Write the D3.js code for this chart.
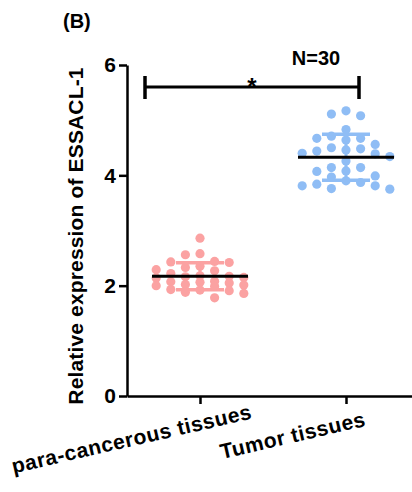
<!DOCTYPE html>
<html>
<head>
<meta charset="utf-8" />
<title>ESSACL-1 expression</title>
<style>
html, body {
	margin:0;
	padding:0;
	background:#ffffff;
}
svg {
	display:block;
	font-family: 'Liberation Sans', Arial, Helvetica, sans-serif;
	font-weight:bold;
}
</style>
</head>
<body>

<script type="text/javascript" src="https://cdn.jsdelivr.net/npm/d3@7/dist/d3.min.js"></script>

<script>

//=======================================
// data
//=======================================

let categories = ['para-cancerous tissues', 'Tumor tissues'];

let paraValues = [
	2.86, 2.58, 2.56, 2.44, 2.42, 2.43, 2.35, 2.33, 2.29, 2.27,
	2.22, 2.18, 2.17, 2.16, 2.15, 2.14, 2.08, 2.07, 2.06, 2.05,
	2.02, 2.01, 2.00, 1.99, 1.93, 1.92, 1.91, 1.88, 1.86, 1.78
];

let tumorValues = [
	5.08, 5.17, 5.11, 4.83, 4.67, 4.64, 4.67, 4.71, 4.50, 4.56,
	4.44, 4.46, 4.40, 4.39, 4.48, 4.34, 4.26, 4.14, 4.08, 4.14,
	4.07, 3.99, 3.81, 3.90, 3.81, 3.87, 3.97, 3.75, 3.84, 3.76
];

let yTicks = [0, 2, 4, 6];

let panelLabel = '(B)',
		yTitle = 'Relative expression of ESSACL-1',
		sigLabel = '*',
		nLabel = 'N=30';

let groupColors = ['#fba2a2', '#8fbdf5'];


//=======================================
// chart
//=======================================

let width = 412,
		height = 492,
		r = 4.6,
		colStep = 14.6,
		maxCol = 3,
		fontCss = 'bold 21px "Liberation Sans", Arial, sans-serif';

let y = d3.scaleLinear().domain([0, 6]).range([396, 65]),
		x = d3.scalePoint().domain(categories).range([127, 419]).padding(0.5);

let groups = [
	{ name: categories[0], values: paraValues, color: groupColors[0] },
	{ name: categories[1], values: tumorValues, color: groupColors[1] },
];

// column layout: nearest free column to the centre, overlap when crowded
function swarm(values)	{
	let order = [0];
	for (let k = 1; k <= maxCol; k++) order.push(-k, k);
	let placed = order.map(() => []);
	return values
		.map(v => ({ v: v, py: y(v) }))
		.sort((a, b) => b.v - a.v)
		.map(d => {
			let best = null, bestGap = -1;
			for (let i = 0; i < order.length; i++) {
				let gap = d3.min(placed[i], p => Math.abs(p - d.py));
				if (gap === undefined) gap = Infinity;
				if (gap >= 2 * r) { best = i; break; }
				if (gap > bestGap) { bestGap = gap; best = i; }
			}
			placed[best].push(d.py);
			d.col = order[best];
			return d;
		});
}

let svg = d3.select('body').append('svg')
	.attr('width', width)
	.attr('height', height)
	.attr('viewBox', [0, 0, width, height].join(' '));

//=====================
// points, sd, mean
//=====================
svg.append('g').attr('class', 'groups')
	.selectAll('g').data(groups)
		.enter()
			.append('g')
				.attr('transform', d => 'translate(' + [x(d.name), 0] + ')')
				.call(sel => {

					sel.selectAll('circle')
						.data(d => swarm(d.values).map(p => Object.assign(p, { color: d.color })))
						.enter()
							.append('circle')
								.attr('cx', d => d.col * colStep)
								.attr('cy', d => d.py)
								.attr('r', r)
								.attr('fill', d => d.color);

					sel.each(function(d) {
						let g = d3.select(this),
								m = d3.mean(d.values),
								s = d3.deviation(d.values);

						g.append('line')
							.attr('x1', 0).attr('x2', 0)
							.attr('y1', y(m + s)).attr('y2', y(m - s))
							.attr('stroke', d.color).attr('stroke-width', 3);

						[m + s, m - s].forEach(v => {
							g.append('line')
								.attr('x1', -24).attr('x2', 24)
								.attr('y1', y(v)).attr('y2', y(v))
								.attr('stroke', d.color).attr('stroke-width', 3.5);
						});

						g.append('line')
							.attr('x1', -48).attr('x2', 48)
							.attr('y1', y(m)).attr('y2', y(m))
							.attr('stroke', '#000').attr('stroke-width', 3);
					});
				});

//=====================
// axes
//=====================
svg.append('g').attr('class', 'y-axis')
	.attr('transform', 'translate(' + [127, 0] + ')')
	.call(d3.axisLeft(y).tickValues(yTicks).tickFormat(d3.format('d')).tickSize(8).tickSizeOuter(0).tickPadding(3))
	.call(sel => {
		sel.select('.domain').attr('stroke-width', 2.5);
		sel.selectAll('.tick line').attr('stroke-width', 2.5);
		sel.selectAll('.tick text').style('font', fontCss).attr('fill', '#000');
	});

svg.append('g').attr('class', 'x-axis')
	.attr('transform', 'translate(' + [0, 396] + ')')
	.call(d3.axisBottom(x).tickSize(8).tickSizeOuter(0).tickFormat(''))
	.call(sel => {
		sel.select('.domain').attr('stroke-width', 2.5);
		sel.selectAll('.tick line').attr('stroke-width', 2.5);
		sel.selectAll('.tick').append('text')
			.attr('fill', '#000')
			.attr('text-anchor', 'start')
			.style('font', fontCss)
			.style('letter-spacing', '0.5px')
			.attr('transform', 'translate(' + [-29, 41] + ') rotate(-13)')
			.text(d => d)
			.attr('x', function() { return -0.66 * this.getComputedTextLength(); });
	});

//=====================
// titles
//=====================
svg.append('text')
	.attr('transform', 'translate(' + [83, 236] + ') rotate(-90)')
	.attr('text-anchor', 'middle')
	.style('font', fontCss)
	.style('letter-spacing', '0.15px')
	.text(yTitle);

svg.append('text')
	.attr('x', 63).attr('y', 27.5)
	.style('font', 'bold 20px "Liberation Sans", Arial, sans-serif')
	.text(panelLabel);

//=====================
// significance bracket
//=====================
let bx0 = x(categories[0]) - 55,
		bx1 = x(categories[1]) + 13,
		by = 87;

svg.append('g').attr('class', 'bracket')
	.call(sel => {
		sel.append('line')
			.attr('x1', bx0).attr('x2', bx1).attr('y1', by).attr('y2', by)
			.attr('stroke', '#000').attr('stroke-width', 3);
		[bx0, bx1].forEach(bx => {
			sel.append('line')
				.attr('x1', bx).attr('x2', bx).attr('y1', by - 11).attr('y2', by + 12)
				.attr('stroke', '#000').attr('stroke-width', 3.5);
		});
		sel.append('text')
			.attr('x', (bx0 + bx1) / 2).attr('y', by + 8)
			.attr('text-anchor', 'middle')
			.style('font', 'bold 24px "Liberation Sans", Arial, sans-serif')
			.text(sigLabel);
		sel.append('text')
			.attr('x', 316).attr('y', 65)
			.attr('text-anchor', 'middle')
			.style('font', 'bold 20px "Liberation Sans", Arial, sans-serif')
			.text(nLabel);
	});

</script>

</body>
</html>
